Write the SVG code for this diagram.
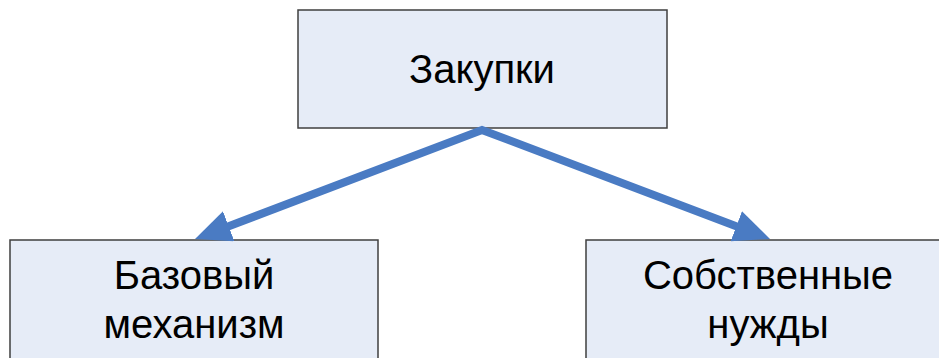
<svg xmlns="http://www.w3.org/2000/svg" width="939" height="358" viewBox="0 0 939 358">
<defs>
<style>
.box{fill:#E6ECF7;stroke:#3F3F3F;stroke-width:1.5}
.lbl{font-family:"Liberation Sans",Arial,sans-serif;font-size:40px;fill:#000;text-anchor:middle}
.conn{fill:none;stroke:#4A7BC3;stroke-width:8;stroke-linejoin:miter}
</style>
<marker id="ah" markerUnits="userSpaceOnUse" markerWidth="36" markerHeight="34" refX="14" refY="16" orient="auto-start-reverse">
<path d="M0,0 L36,16 L0,32 z" fill="#4A7BC3"/>
</marker>
</defs>
<rect width="939" height="358" fill="#fff"/>
<g id="node-zakupki">
<rect class="box" x="298" y="10" width="369" height="118"/>
<text class="lbl" x="482" y="83">Закупки</text>
</g>
<g id="node-bazovy">
<rect class="box" x="10" y="240" width="368" height="130"/>
<text class="lbl" x="194" y="289">Базовый</text>
<text class="lbl" x="194" y="338">механизм</text>
</g>
<g id="node-sobstv">
<rect class="box" x="586" y="240" width="360" height="130"/>
<text class="lbl" x="768" y="289">Собственные</text>
<text class="lbl" x="768" y="338">нужды</text>
</g>
<g id="connectors">
<path class="conn" d="M215.6,231.2 L482,130 L749.4,231.2" marker-start="url(#ah)" marker-end="url(#ah)"/>
</g>
</svg>
